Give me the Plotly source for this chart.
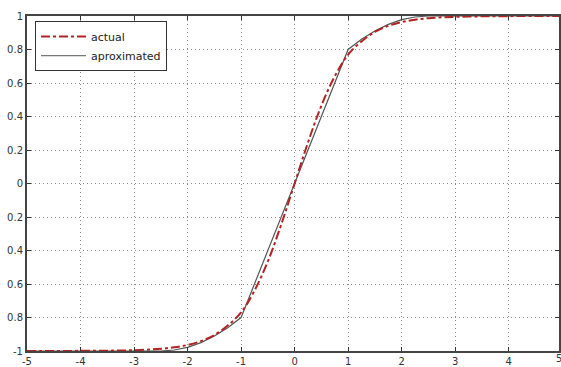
import plotly.graph_objects as go

x_actual = [-5, -4.75, -4.5, -4.25, -4, -3.75, -3.5, -3.25, -3, -2.75, -2.5, -2.25, -2, -1.75, -1.5, -1.25,
            -1, -0.75, -0.5, -0.25, 0, 0.25, 0.5, 0.75, 1, 1.25, 1.5, 1.75, 2, 2.25, 2.5, 2.75, 3, 3.25,
            3.5, 3.75, 4, 4.25, 4.5, 4.75, 5]
y_actual = [-1.0, -1.0, -1.0, -1.0, -0.999, -0.999, -0.998, -0.997, -0.995, -0.992, -0.987, -0.978, -0.964,
            -0.941, -0.905, -0.848, -0.770, -0.640, -0.465, -0.245, 0.0, 0.245, 0.465, 0.640, 0.770, 0.848,
            0.905, 0.941, 0.964, 0.978, 0.987, 0.992, 0.995, 0.997, 0.998, 0.999, 0.999, 1.0, 1.0, 1.0, 1.0]

x_approx = [-5, -3, -2.5, -2.25, -2, -1.75, -1.5, -1.25, -1, 1, 1.25, 1.5, 1.75, 2, 2.25, 2.5, 3, 5]
y_approx = [-1.0, -1.0, -1.0, -0.994, -0.978, -0.95, -0.911, -0.861, -0.8, 0.8, 0.861, 0.911, 0.95, 0.978,
            0.994, 1.0, 1.0, 1.0]

x_ticks = [-5, -4, -3, -2, -1, 0, 1, 2, 3, 4]
y_ticks = [-1, -0.8, -0.6, -0.4, -0.2, 0, 0.2, 0.4, 0.6, 0.8, 1]
y_tick_labels = ["-1", "0.8", "0.6", "0.4", "0.2", "0", "0.2", "0.4", "0.6", "0.8", "1"]

tick_font = dict(family="DejaVu Sans", size=10, color="#333333")

fig = go.Figure()
fig.add_trace(go.Scatter(x=x_approx, y=y_approx, mode="lines", name="aproximated",
                         line=dict(color="#555555", width=1.2), showlegend=False))
fig.add_trace(go.Scatter(x=x_actual, y=y_actual, mode="lines", name="actual",
                         line=dict(color="#b22222", width=2, dash="dashdot"), line_shape="spline"))
fig.add_trace(go.Scatter(x=[None], y=[None], mode="lines", name="aproximated",
                         line=dict(color="#777777", width=1.2)))

axis_common = dict(showline=True, linecolor="#444444", linewidth=2, mirror="ticks",
                   ticks="inside", ticklen=4, tickcolor="#333333",
                   showgrid=True, gridcolor="#8c8c8c", griddash="1px,3px", gridwidth=1,
                   zeroline=False, tickfont=tick_font)

fig.update_layout(
    width=561, height=367,
    margin=dict(l=27, r=0, t=16, b=14),
    paper_bgcolor="white", plot_bgcolor="white",
    xaxis=dict(range=[-5, 4.94], tickvals=x_ticks, ticktext=[str(v) for v in x_ticks],
               ticklabelstandoff=0, **axis_common),
    yaxis=dict(range=[-1, 1], tickvals=y_ticks, ticktext=y_tick_labels, **axis_common),
    legend=dict(x=0.015, y=0.985, xanchor="left", yanchor="top",
                bgcolor="white", bordercolor="#333333", borderwidth=1,
                font=dict(family="DejaVu Sans", size=11, color="#222222"),
                tracegroupgap=0, itemwidth=45),
    annotations=[dict(x=1.0, y=0, xref="paper", yref="paper", text="5", showarrow=False,
                      xanchor="left", yanchor="top", xshift=-5, yshift=0,
                      font=tick_font)],
)

fig.write_html("out.html", config={"displayModeBar": False},
               post_script="document.body.style.margin='0';document.body.style.overflow='hidden';")
